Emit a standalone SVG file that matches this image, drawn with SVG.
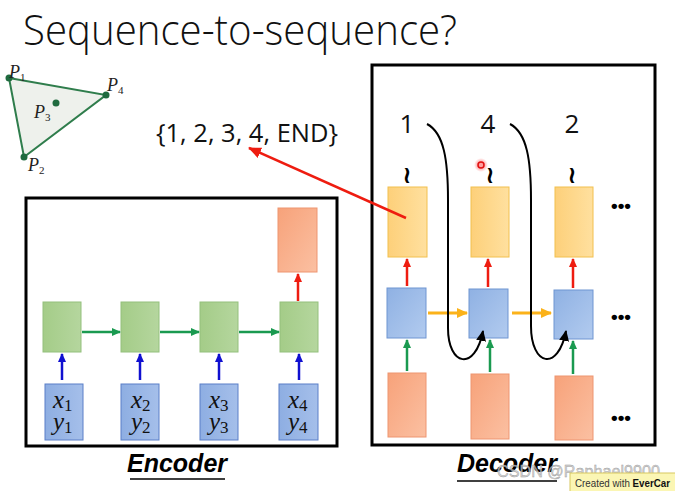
<svg xmlns="http://www.w3.org/2000/svg" width="675" height="491" viewBox="0 0 675 491">
<defs>
<linearGradient id="gGreen" x1="0" y1="0" x2="1" y2="0"><stop offset="0" stop-color="#a4cc88"/><stop offset="1" stop-color="#b5d69e"/></linearGradient>
<linearGradient id="gBlue" x1="0" y1="0" x2="1" y2="1"><stop offset="0" stop-color="#8fb1e3"/><stop offset="1" stop-color="#b2cbef"/></linearGradient>
<linearGradient id="gIn" x1="0" y1="0" x2="1" y2="0"><stop offset="0" stop-color="#8eaee2"/><stop offset="1" stop-color="#a5bfea"/></linearGradient>
<linearGradient id="gYel" x1="0" y1="0" x2="1" y2="0"><stop offset="0" stop-color="#fdd07a"/><stop offset="1" stop-color="#ffe09f"/></linearGradient>
<linearGradient id="gOr" x1="0" y1="0" x2="1" y2="1"><stop offset="0" stop-color="#f7a27a"/><stop offset="1" stop-color="#fbc0a2"/></linearGradient>
<radialGradient id="glow"><stop offset="0.4" stop-color="#ff6060" stop-opacity="0.6"/><stop offset="1" stop-color="#ff6060" stop-opacity="0"/></radialGradient>
<marker id="aBlue" markerUnits="userSpaceOnUse" markerWidth="10" markerHeight="10" refX="8" refY="5" orient="auto"><path d="M0,1 L9,5 L0,9 z" fill="#1010d0"/></marker>
<marker id="aGreen" markerUnits="userSpaceOnUse" markerWidth="10" markerHeight="10" refX="8" refY="5" orient="auto"><path d="M0,1 L9,5 L0,9 z" fill="#1a9a50"/></marker>
<marker id="aRed" markerUnits="userSpaceOnUse" markerWidth="10" markerHeight="10" refX="8" refY="5" orient="auto"><path d="M0,1 L9,5 L0,9 z" fill="#ee1c10"/></marker>
<marker id="aRedBig" markerUnits="userSpaceOnUse" markerWidth="14" markerHeight="14" refX="12" refY="7" orient="auto"><path d="M0,1.5 L13,7 L0,12.5 z" fill="#ee1c10"/></marker>
<marker id="aYel" markerUnits="userSpaceOnUse" markerWidth="12" markerHeight="12" refX="10" refY="6" orient="auto"><path d="M0,1 L11,6 L0,11 z" fill="#fbb21a"/></marker>
<marker id="aBlack" markerUnits="userSpaceOnUse" markerWidth="12" markerHeight="12" refX="10" refY="6" orient="auto"><path d="M0,1 L11,6 L0,11 z" fill="#000"/></marker>
</defs>
<style>
.frame{fill:#fff;stroke:#000;stroke-width:3}
.green{fill:url(#gGreen);stroke:#93c07c;stroke-width:1}
.blue{fill:url(#gBlue);stroke:#6f95d2;stroke-width:1}
.inp{fill:url(#gIn);stroke:#5a7fc8;stroke-width:1}
.yel{fill:url(#gYel);stroke:#f2c04e;stroke-width:1}
.org{fill:url(#gOr);stroke:#ee9570;stroke-width:1}
.math{font-family:"Liberation Serif","DejaVu Serif",serif;font-style:italic;font-size:25px;fill:#111}
.sub{font-style:normal;font-size:17px}
.num{font-family:"Open Sans","Liberation Sans",sans-serif;font-size:26px;fill:#111;text-anchor:middle}
.tilde{font-family:"DejaVu Sans",sans-serif;font-size:24px;font-weight:bold;fill:#000;text-anchor:middle}
.dots{font-family:"Liberation Sans",sans-serif;font-size:19px;font-weight:bold;fill:#000;text-anchor:middle}
.lbl{font-family:"Liberation Sans",sans-serif;font-style:italic;font-weight:bold;font-size:25px;fill:#000;text-anchor:middle}
.pl{font-family:"Liberation Serif",serif;font-style:italic;font-size:18px;fill:#222}
.ps{font-style:normal;font-size:11px}
</style>
<rect width="675" height="491" fill="#fff"/>
<text x="23" y="45" font-family="Open Sans,Liberation Sans,sans-serif" font-weight="300" font-size="42" fill="#111" textLength="434" lengthAdjust="spacingAndGlyphs">Sequence-to-sequence?</text>

<g id="triangle">
<polygon points="9,78 106,95 24,157" fill="#eef1ec" stroke="#2f7d4c" stroke-width="2"/>
<circle cx="9" cy="78" r="3.5" fill="#1f6b3f"/>
<circle cx="106" cy="95" r="3.5" fill="#1f6b3f"/>
<circle cx="24" cy="157" r="3.5" fill="#1f6b3f"/>
<circle cx="56" cy="103" r="3.5" fill="#1f6b3f"/>
<text class="pl" x="9" y="78">P<tspan class="ps" dy="3">1</tspan></text>
<text class="pl" x="107" y="91">P<tspan class="ps" dy="3">4</tspan></text>
<text class="pl" x="34" y="118">P<tspan class="ps" dy="3">3</tspan></text>
<text class="pl" x="28" y="171">P<tspan class="ps" dy="3">2</tspan></text>
</g>

<text id="seq" x="156" y="142" font-family="Open Sans,Liberation Sans,sans-serif" font-size="25" fill="#111" textLength="182" lengthAdjust="spacingAndGlyphs">{1, 2, 3, 4, END}</text>

<g id="encoder">
<rect class="frame" x="26" y="198" width="311" height="248"/>
<g id="enc-h1"><rect class="green" x="43" y="302" width="38" height="50"/></g>
<g id="enc-h2"><rect class="green" x="121" y="302" width="38" height="50"/></g>
<g id="enc-h3"><rect class="green" x="200" y="302" width="38" height="50"/></g>
<g id="enc-h4"><rect class="green" x="280" y="302" width="38" height="50"/></g>
<g id="enc-out"><rect class="org" x="278" y="208" width="39" height="64"/></g>
<g id="enc-in1"><rect class="inp" x="45" y="384" width="38" height="56"/>
<text class="math" x="53" y="408">x<tspan class="sub" dy="3">1</tspan></text>
<text class="math" x="53" y="430">y<tspan class="sub" dy="3">1</tspan></text></g>
<g id="enc-in2"><rect class="inp" x="121" y="384" width="38" height="56"/>
<text class="math" x="131" y="408">x<tspan class="sub" dy="3">2</tspan></text>
<text class="math" x="131" y="430">y<tspan class="sub" dy="3">2</tspan></text></g>
<g id="enc-in3"><rect class="inp" x="200" y="384" width="38" height="56"/>
<text class="math" x="209" y="408">x<tspan class="sub" dy="3">3</tspan></text>
<text class="math" x="209" y="430">y<tspan class="sub" dy="3">3</tspan></text></g>
<g id="enc-in4"><rect class="inp" x="279" y="384" width="39" height="56"/>
<text class="math" x="288" y="408">x<tspan class="sub" dy="3">4</tspan></text>
<text class="math" x="288" y="430">y<tspan class="sub" dy="3">4</tspan></text></g>
<text class="lbl" x="177" y="472">Encoder</text>
<line x1="130" y1="479" x2="225" y2="479" stroke="#000" stroke-width="1.5"/>
</g>

<g id="decoder">
<rect class="frame" x="372" y="65" width="283" height="380"/>
<text class="num" x="407" y="133">1</text>
<text class="num" x="488" y="133">4</text>
<text class="num" x="572" y="133">2</text>
<text class="tilde" x="407" y="183">≀</text>
<text class="tilde" x="490" y="183">≀</text>
<text class="tilde" x="572" y="183">≀</text>
<g id="dec-y1"><rect class="yel" x="388" y="187" width="39" height="70"/></g>
<g id="dec-y2"><rect class="yel" x="471" y="187" width="38" height="70"/></g>
<g id="dec-y3"><rect class="yel" x="555" y="187" width="38" height="70"/></g>
<g id="dec-h1"><rect class="blue" x="387" y="288" width="39" height="50"/></g>
<g id="dec-h2"><rect class="blue" x="469" y="289" width="39" height="49"/></g>
<g id="dec-h3"><rect class="blue" x="554" y="290" width="39" height="49"/></g>
<g id="dec-in1"><rect class="org" x="388" y="373" width="38" height="64"/></g>
<g id="dec-in2"><rect class="org" x="471" y="374" width="38" height="65"/></g>
<g id="dec-in3"><rect class="org" x="555" y="376" width="38" height="64"/></g>
<text class="dots" x="621" y="212">•••</text>
<text class="dots" x="621" y="323">•••</text>
<text class="dots" x="621" y="424">•••</text>
<text class="lbl" x="507" y="472">Decoder</text>
<line x1="457" y1="481" x2="557" y2="481" stroke="#000" stroke-width="1.5"/>
</g>

<g id="connectors" fill="none">
<line x1="62" y1="380" x2="62" y2="354" stroke="#1010d0" stroke-width="2.5" marker-end="url(#aBlue)"/>
<line x1="140" y1="380" x2="140" y2="354" stroke="#1010d0" stroke-width="2.5" marker-end="url(#aBlue)"/>
<line x1="219" y1="380" x2="219" y2="354" stroke="#1010d0" stroke-width="2.5" marker-end="url(#aBlue)"/>
<line x1="299" y1="380" x2="299" y2="354" stroke="#1010d0" stroke-width="2.5" marker-end="url(#aBlue)"/>
<line x1="82" y1="332" x2="120" y2="332" stroke="#1a9a50" stroke-width="2.5" marker-end="url(#aGreen)"/>
<line x1="160" y1="332" x2="199" y2="332" stroke="#1a9a50" stroke-width="2.5" marker-end="url(#aGreen)"/>
<line x1="239" y1="332" x2="279" y2="332" stroke="#1a9a50" stroke-width="2.5" marker-end="url(#aGreen)"/>
<line x1="298" y1="301" x2="298" y2="274" stroke="#ee1c10" stroke-width="2.5" marker-end="url(#aRed)"/>

<line x1="407" y1="286" x2="407" y2="259" stroke="#ee1c10" stroke-width="2.5" marker-end="url(#aRed)"/>
<line x1="488" y1="287" x2="488" y2="259" stroke="#ee1c10" stroke-width="2.5" marker-end="url(#aRed)"/>
<line x1="573" y1="288" x2="573" y2="259" stroke="#ee1c10" stroke-width="2.5" marker-end="url(#aRed)"/>
<line x1="407" y1="371" x2="407" y2="340" stroke="#1a9a50" stroke-width="2.5" marker-end="url(#aGreen)"/>
<line x1="490" y1="372" x2="490" y2="340" stroke="#1a9a50" stroke-width="2.5" marker-end="url(#aGreen)"/>
<line x1="573" y1="374" x2="573" y2="341" stroke="#1a9a50" stroke-width="2.5" marker-end="url(#aGreen)"/>
<line x1="428" y1="313" x2="467" y2="313" stroke="#fbb21a" stroke-width="3" marker-end="url(#aYel)"/>
<line x1="512" y1="313" x2="551" y2="313" stroke="#fbb21a" stroke-width="3" marker-end="url(#aYel)"/>

<path d="M427,124 C444,133 448,160 448,200 L448,328 C448,366 475,372 483,331" stroke="#000" stroke-width="2" marker-end="url(#aBlack)"/>
<path d="M510,124 C527,133 531,160 531,200 L531,326 C531,366 558,372 566,331" stroke="#000" stroke-width="2" marker-end="url(#aBlack)"/>

<line x1="406" y1="218" x2="249" y2="148" stroke="#ee1c10" stroke-width="2.5" marker-end="url(#aRedBig)"/>
</g>

<circle cx="481" cy="165" r="7" fill="url(#glow)"/>
<circle cx="481" cy="165" r="3" fill="none" stroke="#e01010" stroke-width="1.5"/>

<text x="497" y="477" font-family="Liberation Sans,sans-serif" font-size="17" fill="#c8c8c8" fill-opacity="0.8" stroke="#999" stroke-width="0.4" textLength="163" lengthAdjust="spacingAndGlyphs">CSDN @Raphael9900</text>
<rect x="570" y="473" width="110" height="20" fill="#fbf6b4" stroke="#d8c860" stroke-width="1"/>
<text x="575" y="487" font-family="Liberation Sans,sans-serif" font-size="11" fill="#333" textLength="95" lengthAdjust="spacingAndGlyphs">Created with <tspan font-weight="bold" fill="#111">EverCar</tspan></text>
</svg>
